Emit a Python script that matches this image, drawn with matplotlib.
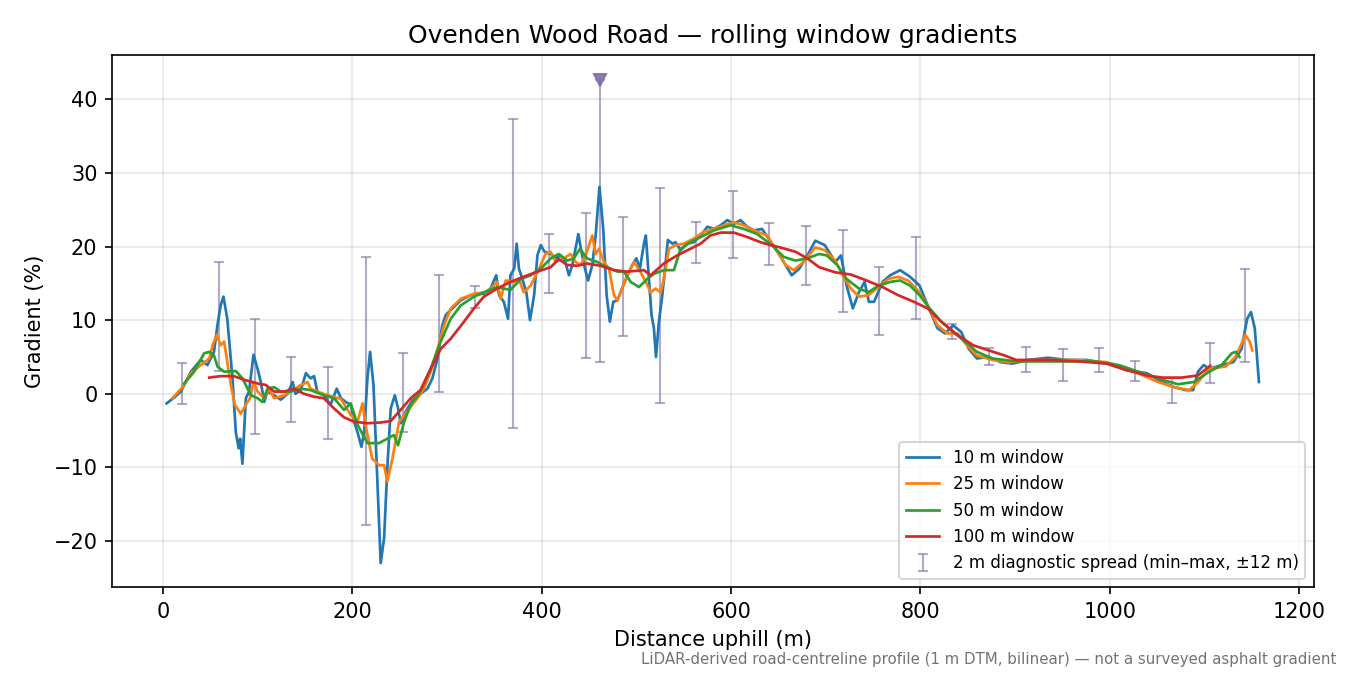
import numpy as np
import matplotlib
matplotlib.use("Agg")
import matplotlib.pyplot as plt

# gradients (%), x in metres uphill
x10 = [4, 12, 19, 29.6, 40, 47, 54, 57.7, 61, 64, 68, 73.5, 77, 80, 81.6, 84, 87.6, 91, 95.7, 100,
       103.4, 107, 110.5, 117.5, 124.5, 131.6, 137, 140, 145.6, 151, 156, 159.7, 163, 170, 177, 183.6,
       188, 193, 198.4, 202, 205.5, 209.7, 212.5, 216, 218.8, 222.4, 226, 230, 233.6, 237, 240.6, 244.9,
       248.4, 251.2, 256.5, 263.5, 272, 279.4, 284.6, 290, 295, 298.7, 304, 309, 314.5, 325, 339, 346,
       352, 355, 360, 364.5, 367, 371, 373.6, 376, 379.6, 383.8, 387.7, 392, 395.5, 399, 403, 409.5,
       414.8, 420, 425, 428.8, 432.4, 436, 438.7, 442, 445.7, 449, 453.5, 457, 461, 465, 468.6, 472,
       475.6, 480, 485, 490.5, 495.7, 500, 503.7, 508, 510, 513, 516, 518.5, 520.7, 523.8, 527.4, 531,
       533.3, 538, 541.4, 546.7, 553.7, 560.7, 567.8, 575, 582, 589, 596, 603, 610, 617, 624, 632.7,
       641, 651.5, 664, 672, 680.5, 689, 699, 710, 716, 722, 728.6, 735, 741, 745.5, 751, 760, 768,
       778.5, 789, 799, 807.6, 818, 826, 834.5, 843, 851, 859.6, 872, 884.6, 897, 913.8, 934.5, 955,
       976, 997, 1018, 1039, 1055.4, 1068, 1080, 1088, 1093, 1099, 1105, 1118, 1130.4, 1139, 1145,
       1149, 1153, 1157.4]
g10 = [-1.3, -0.5, 0.3, 3, 4.6, 3.9, 5.7, 9.4, 12, 13.2, 10.2, 2.1, -5.2, -7.4, -6.1, -9.5, -0.6, 0.3, 5.3, 3.4,
       1.6, -1.1, 0.3, -0.2, -0.8, 0, 1.6, 0, 0.5, 2.8, 2.1, 2.4, 0.3, -0.2, -1.5, 0.7,
       -0.6, -1.1, -1.5, -3.8, -5.2, -7.2, -5.2, 2.1, 5.7, 1.2, -10.1, -23, -19.6, -10.1, -2, -0.2,
       -2, -4, -2.4, -0.9, 0, 0.7, 2.1, 4.8, 9.3, 10.7, 11.4, 12, 12.7, 13.4, 13.6, 14.3,
       16.1, 13.4, 12.5, 10.2, 16.1, 17, 20.4, 17, 15.6, 13.8, 10, 13.4, 18.8, 20.2, 19.3, 19,
       18.4, 18.8, 17.9, 16.1, 17.5, 19.9, 21.7, 19.3, 17, 15.4, 17.5, 21.5, 28.1, 22.4, 13.4, 9.8,
       12.5, 12.7, 14.3, 16.1, 17.5, 18.4, 17, 20.4, 21.5, 16.1, 10.7, 8.9, 5, 9.8, 13.4, 17.9,
       20.9, 20.4, 20.6, 19.5, 20.4, 20.6, 21.5, 22.7, 22.4, 22.9, 23.6, 23.1, 23.6, 22.7, 22.2, 22.4,
       20.8, 18.8, 16.1, 17, 18.8, 20.8, 20.2, 17.9, 18.8, 14.7, 11.6, 13.8, 15.2, 12.5, 12.5, 15.2, 16.1,
       16.8, 15.9, 14.7, 12, 8.9, 8.2, 9.3, 8.4, 6.1, 4.8, 5, 4.3, 4.1, 4.6, 4.9, 4.6,
       4.6, 4.1, 3.2, 2.8, 1.6, 0.9, 0.5, 0.5, 3, 3.9, 3.4, 3.9, 4.3, 6.1, 10.2,
       11.1, 8.9, 1.6]

x25 = [10, 20.8, 29.6, 40, 49, 52.4, 57, 61, 64.7, 68, 71.8, 76, 82.3, 87.6, 92, 95.7, 100, 107, 112,
       117.5, 128, 137, 145.6, 152.7, 156, 163, 174, 188, 198.4, 205.5, 210.8, 214, 221, 228.3, 233.6,
       237, 242.4, 249.4, 258, 268.8, 275.8, 282.8, 290, 297, 304, 314.5, 328.5, 342.7, 353, 356.7,
       362, 371, 376, 381, 388.4, 393.7, 399, 404, 409.5, 414.8, 423.5, 430.6, 436, 441, 446.4, 451,
       453.5, 457, 460.5, 465.8, 471, 476.3, 480, 485, 490.5, 497.5, 504.5, 510, 515, 520.3, 525.6,
       529, 534.4, 541.4, 550, 560.7, 571, 582, 592.4, 603, 613.5, 624, 638, 647, 657.7, 666, 676.5,
       689, 699, 710, 718, 726.5, 735, 745, 755.7, 766, 776.4, 787, 797, 807.6, 818, 828.6, 839, 849,
       859.6, 876, 893, 922, 964, 997, 1026, 1051, 1068, 1084, 1093, 1105, 1122, 1132.6, 1139, 1143,
       1147.6, 1150.4]
g25 = [-0.6, 0.9, 2.8, 3.9, 4.8, 6.6, 8, 6.6, 7.1, 4.3, 1.2, -1.5, -2.7, -1.5, -0.6, 1.6, 0.3, -0.6, 0.7,
       -0.6, -0.2, 0.5, 1.2, 1.6, 0.7, 0.3, -0.2, -0.7, -2.9, -3.8, -1.3, -4.2, -8.8, -9.7, -9.7,
       -11.9, -8.8, -3.8, -2.4, -0.6, 0.7, 3, 6.1, 9.3, 11.6, 12.9, 13.6, 13.8, 15.2, 12.9,
       15.4, 15.2, 15.6, 13.8, 14.7, 16.1, 17.5, 19, 19.3, 17.9, 18.4, 19, 17.9, 17.5, 18.8, 20.6,
       21.5, 19, 19.7, 17.9, 17, 13.4, 12.7, 14.3, 16.1, 17.9, 16.5, 15.2, 13.8, 14.3, 13.8,
       15.6, 19.7, 20.2, 20.4, 21.1, 22, 22.4, 22.9, 23.3, 22.9, 22.2, 21.5, 19.7, 17.5, 16.8, 17.9,
       19.9, 19.5, 18.1, 16.1, 14.3, 13.2, 13.4, 14.5, 15.6, 15.9, 15.4, 14.1, 12, 9.3, 8.2, 8.2, 6.6,
       5.2, 4.6, 4.3, 4.6, 4.6, 4.3, 3, 1.6, 0.9, 0.5, 1.6, 3.4, 3.7, 5, 6.8, 8,
       7.1, 5.9]

x50 = [22.5, 33, 43.6, 49, 54, 57.7, 64.7, 77, 84, 93, 100, 105, 110.5, 117.5, 124.5, 135, 145.6, 156,
       170, 180.8, 191.3, 198.4, 205.5, 216, 228.3, 237, 244, 248.3, 254.7, 261.7, 272, 282.8, 293.4,
       304, 314.5, 328.5, 339, 353, 367, 378, 388.4, 399, 409.5, 418, 427, 434, 440.4, 448, 458.8, 469,
       480, 487, 494, 502.7, 511.5, 518.5, 529, 539.6, 546.7, 557, 567.8, 582, 599.5, 613.5, 627.6,
       643, 655.6, 668, 680.5, 693, 701, 712, 722, 735, 745, 755.7, 768, 778.5, 789, 799, 809.7, 822,
       834.5, 847, 859.6, 876, 901, 943, 984.5, 1009.5, 1034.6, 1055.4, 1072, 1088.6, 1105, 1118,
       1128.6, 1133, 1137]
g50 = [1.4, 3, 5.5, 5.7, 5.2, 3.7, 3, 3.1, 2.1, -0.2, -0.6, -1.1, 0.7, 0.9, 0.3, 0.3, 0.7, 0.5,
       -0.2, -0.6, -2.2, -1.3, -4.2, -6.7, -6.7, -6.1, -5.6, -7, -3.8, -1.5, 0.3, 3.4, 7.1,
       10.2, 12, 13.2, 13.8, 14.5, 14.1, 15.6, 16.1, 17, 18.4, 19, 18.1, 18.4, 19.7, 18.4, 17.9, 17.2,
       16.6, 16.6, 15.2, 14.5, 15.6, 16.3, 16.8, 16.8, 19.7, 20.6, 21.3, 22.2, 22.9, 22.4, 21.7,
       20.2, 18.6, 18.1, 18.4, 19, 18.8, 17.5, 15.6, 14.3, 13.8, 14.7, 15.2, 15.4, 14.7, 13.4, 11.6, 9.8,
       8.4, 7.1, 5.7, 4.8, 4.4, 4.4, 4.4, 3.9, 2.8, 1.9, 1.3, 1.6, 3, 3.9,
       5.5, 5.7, 5]

x100 = [49, 61, 75, 85.8, 100, 108.7, 117.5, 128, 138.6, 149, 159.7, 170, 180.8, 191.3, 202, 216, 230,
        240.6, 251, 261.7, 272, 282.8, 293.4, 304, 318, 328.5, 339, 353, 367, 381, 395.5, 409.5, 418,
        427, 437.6, 448, 462, 476.3, 490.5, 508, 515, 529, 543, 557, 567.8, 578, 589, 603, 617, 631,
        641.7, 651.5, 668, 680.5, 693, 710, 726.5, 743, 760, 776.4, 793, 807.6, 822, 839, 855.5, 872,
        889, 901, 934.5, 967.7, 997, 1018, 1039, 1055.4, 1076, 1093, 1106]
g100 = [2.2, 2.4, 2.4, 1.9, 1.4, 1.2, 0.3, 0.3, 0.7, 0, -0.4, -0.6, -2, -3.2, -3.8, -4, -3.9,
        -3.7, -2.2, -0.6, 0.5, 3.4, 6.1, 7.5, 9.8, 11.6, 13.2, 14.3, 15.2, 15.9, 16.6, 17.2, 18.3,
        17.5, 17.4, 17.7, 17.4, 16.8, 16.6, 16.8, 16.1, 17.7, 18.8, 19.7, 20.4, 21.5, 21.9, 21.9, 21.3, 20.6,
        20.2, 19.9, 19.3, 18.4, 17.2, 16.5, 16.2, 15.4, 14.5, 13.4, 12.5, 11.6, 9.8, 8, 6.6, 5.9,
        5.2, 4.6, 4.6, 4.4, 4.1, 3.2, 2.5, 2.2, 2.2, 2.5, 3.8]

# 2 m diagnostic spread (min / max within +-12 m)
spread_x = [19.7, 58.8, 97.8, 135.8, 174.8, 214.2, 253.3, 291.6, 330, 369.4, 407.4, 446.4, 461.2,
            485.8, 524.9, 562.5, 601.9, 640, 679.4, 717.7, 756.4, 795, 833.8, 872.6, 911.3, 950,
            988.3, 1027, 1065.7, 1105.3, 1142.8]
spread_lo = [-1.4, 3.1, -5.4, -3.8, -6.2, -17.8, -5.2, 0.3, 11.7, -4.7, 13.7, 4.8, 4.3,
             7.9, -1.2, 17.8, 18.5, 17.5, 14.8, 11.1, 8.0, 10.1, 7.5, 3.9, 2.9, 1.8,
             3.0, 1.7, -1.2, 1.5, 4.3]
spread_hi = [4.2, 17.9, 10.1, 5.0, 3.7, 18.6, 5.5, 16.2, 14.7, 37.4, 21.7, 24.5, 42.7,
             24.0, 28.0, 23.3, 27.6, 23.2, 22.8, 22.3, 17.2, 21.3, 9.5, 6.2, 6.4, 6.1,
             6.2, 4.5, 2.1, 6.9, 17.0]
clip_top = 42.5  # off-scale max, shown with a marker

fig, ax = plt.subplots(figsize=(9, 4.5), dpi=150)
fig.subplots_adjust(left=0.083, right=0.973, top=0.918, bottom=0.130)

ax.plot(x10, g10, color="C0", lw=1.3, label="10 m window", zorder=3)
ax.plot(x25, g25, color="C1", lw=1.3, label="25 m window", zorder=3)
ax.plot(x50, g50, color="C2", lw=1.3, label="50 m window", zorder=3)
ax.plot(x100, g100, color="C3", lw=1.3, label="100 m window", zorder=3)

sx = np.array(spread_x)
lo = np.array(spread_lo)
hi = np.array(spread_hi)
mid = (lo + hi) / 2
ax.errorbar(sx, mid, yerr=[mid - lo, hi - mid], fmt="none", ecolor="#8070a8", alpha=0.6,
            elinewidth=1.0, capsize=2.5, capthick=1.0, zorder=2,
            label="2 m diagnostic spread (min\u2013max, \u00b112 m)")
clipped = hi >= clip_top
ax.plot(sx[clipped], hi[clipped], "v", color="#8070a8", alpha=0.9, ms=5.5, zorder=4)

ax.set_title("Ovenden Wood Road \u2014 rolling window gradients")
ax.set_xlabel("Distance uphill (m)")
ax.set_ylabel("Gradient (%)")
ax.grid(True, alpha=0.3)
ax.legend(loc="lower right", fontsize=8)

fig.text(0.99, 0.012, "LiDAR-derived road-centreline profile (1 m DTM, bilinear) \u2014 not a surveyed asphalt gradient",
         ha="right", va="bottom", fontsize=7.2, color="0.45")

fig.savefig("out.png", dpi=150)
